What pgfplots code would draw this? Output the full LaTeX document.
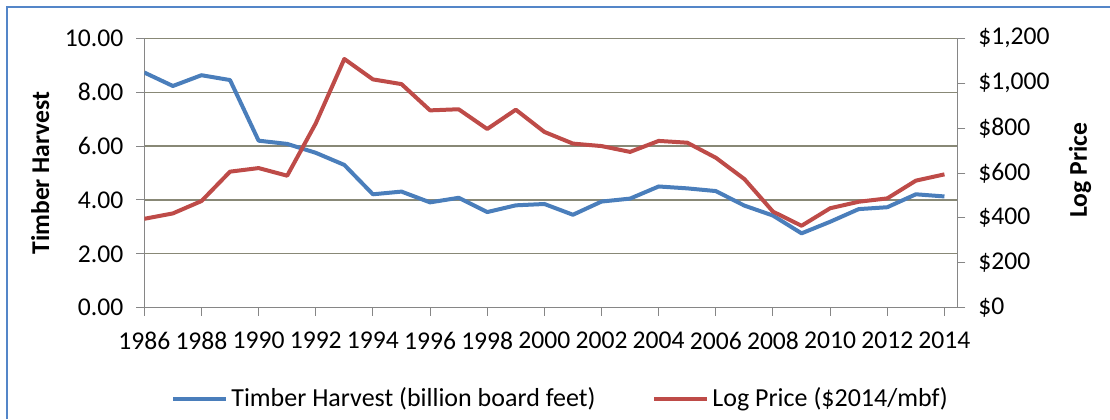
\documentclass[border=0pt]{standalone}
\usepackage{pgfplots}
\pgfplotsset{compat=1.18}
\usepackage{pgfplotstable}
\usepackage{fontspec}
\setmainfont{Carlito}

\definecolor{harvestblue}{RGB}{74,126,187}
\definecolor{pricered}{RGB}{190,75,72}
\definecolor{gridcol}{RGB}{136,136,118}
\definecolor{axiscol}{RGB}{134,134,134}
\definecolor{framecol}{RGB}{84,134,200}

% Timber harvest, billion board feet
\pgfplotstableread{
year harvest
1986 8.73
1987 8.23
1988 8.63
1989 8.45
1990 6.20
1991 6.08
1992 5.75
1993 5.30
1994 4.21
1995 4.31
1996 3.91
1997 4.08
1998 3.55
1999 3.80
2000 3.85
2001 3.45
2002 3.94
2003 4.05
2004 4.50
2005 4.43
2006 4.33
2007 3.79
2008 3.42
2009 2.76
2010 3.19
2011 3.66
2012 3.73
2013 4.21
2014 4.13
}\harvest

% Log price, $2014 per thousand board feet
\pgfplotstableread{
year price
1986 396
1987 420
1988 475
1989 606
1990 622
1991 588
1992 821
1993 1108
1994 1017
1995 996
1996 879
1997 884
1998 796
1999 882
2000 783
2001 731
2002 720
2003 694
2004 743
2005 735
2006 668
2007 573
2008 428
2009 365
2010 443
2011 472
2012 487
2013 566
2014 594
}\price

\begin{document}
\begin{tikzpicture}
% canvas and frame
\useasboundingbox (0,0) rectangle (555pt,-209.5pt);
\draw[framecol, line width=1pt] (3.5pt,-209.5pt) -- (3.5pt,-3.5pt) -- (555pt,-3.5pt);

\pgfplotsset{
  every axis/.append style={
    scale only axis,
    width=406.5pt, height=134.7pt,
    at={(72.15pt,-153.85pt)}, anchor=south west,
    xmin=1986, xmax=2014.45,
    tick style={axiscol, line width=0.5pt},
    axis line style={axiscol, line width=0.6pt},
    tick align=outside,
    major tick length=4pt,
    ticklabel style={font=\fontsize{12.8}{15}\selectfont},
    /pgf/number format/assume math mode=true,
  },
}

\begin{axis}[
  axis x line*=bottom, axis y line*=left,
  ymin=0, ymax=10,
  ytick={0,2,...,10},
  yticklabel={\pgfmathprintnumber[fixed,fixed zerofill,precision=2]{\tick}},
  xtick={1986,1988,...,2014},
  xticklabel={\pgfmathprintnumber[1000 sep={}]{\tick}},
  xticklabel style={yshift=-4.5pt},
  yticklabel style={xshift=-3pt},
  ymajorgrids,
  grid style={gridcol, line width=0.6pt},
  ylabel={Timber Harvest},
  every axis y label/.style={at={(axis description cs:-0.128,0.5)}, rotate=90,
    anchor=center, font=\bfseries\fontsize{12.8}{15}\selectfont},
]
\addplot[harvestblue, line width=2pt, line join=round] table[x=year, y=harvest] {\harvest};
\end{axis}

\begin{axis}[
  axis x line=none, axis y line*=right,
  ymin=0, ymax=1200,
  ytick={0,200,...,1200},
  yticklabels={\$0,\$200,\$400,\$600,\$800,{\$1,000},{\$1,200}},
  yticklabel style={xshift=3pt, anchor=west},
  ylabel={Log Price},
  every axis y label/.style={at={(axis description cs:1.151,0.51)}, rotate=90,
    anchor=center, font=\bfseries\fontsize{12.8}{15}\selectfont},
  legend columns=2,
  legend style={
    draw=none, fill=none,
    at={(0.5126,-0.337)}, anchor=center,
    font=\fontsize{13}{15}\selectfont,
    nodes={inner xsep=1.5pt},
    /tikz/every even column/.append style={column sep=27pt},
  },
  legend image code/.code={\draw[#1] (0pt,0pt) -- (26.5pt,0pt);},
]
\addlegendimage{harvestblue, line width=2pt}
\addlegendentry{Timber Harvest (billion board feet)}
\addplot[pricered, line width=2pt, line join=round] table[x=year, y=price] {\price};
\addlegendentry{Log Price (\$2014/mbf)}
\end{axis}
\end{tikzpicture}
\end{document}
